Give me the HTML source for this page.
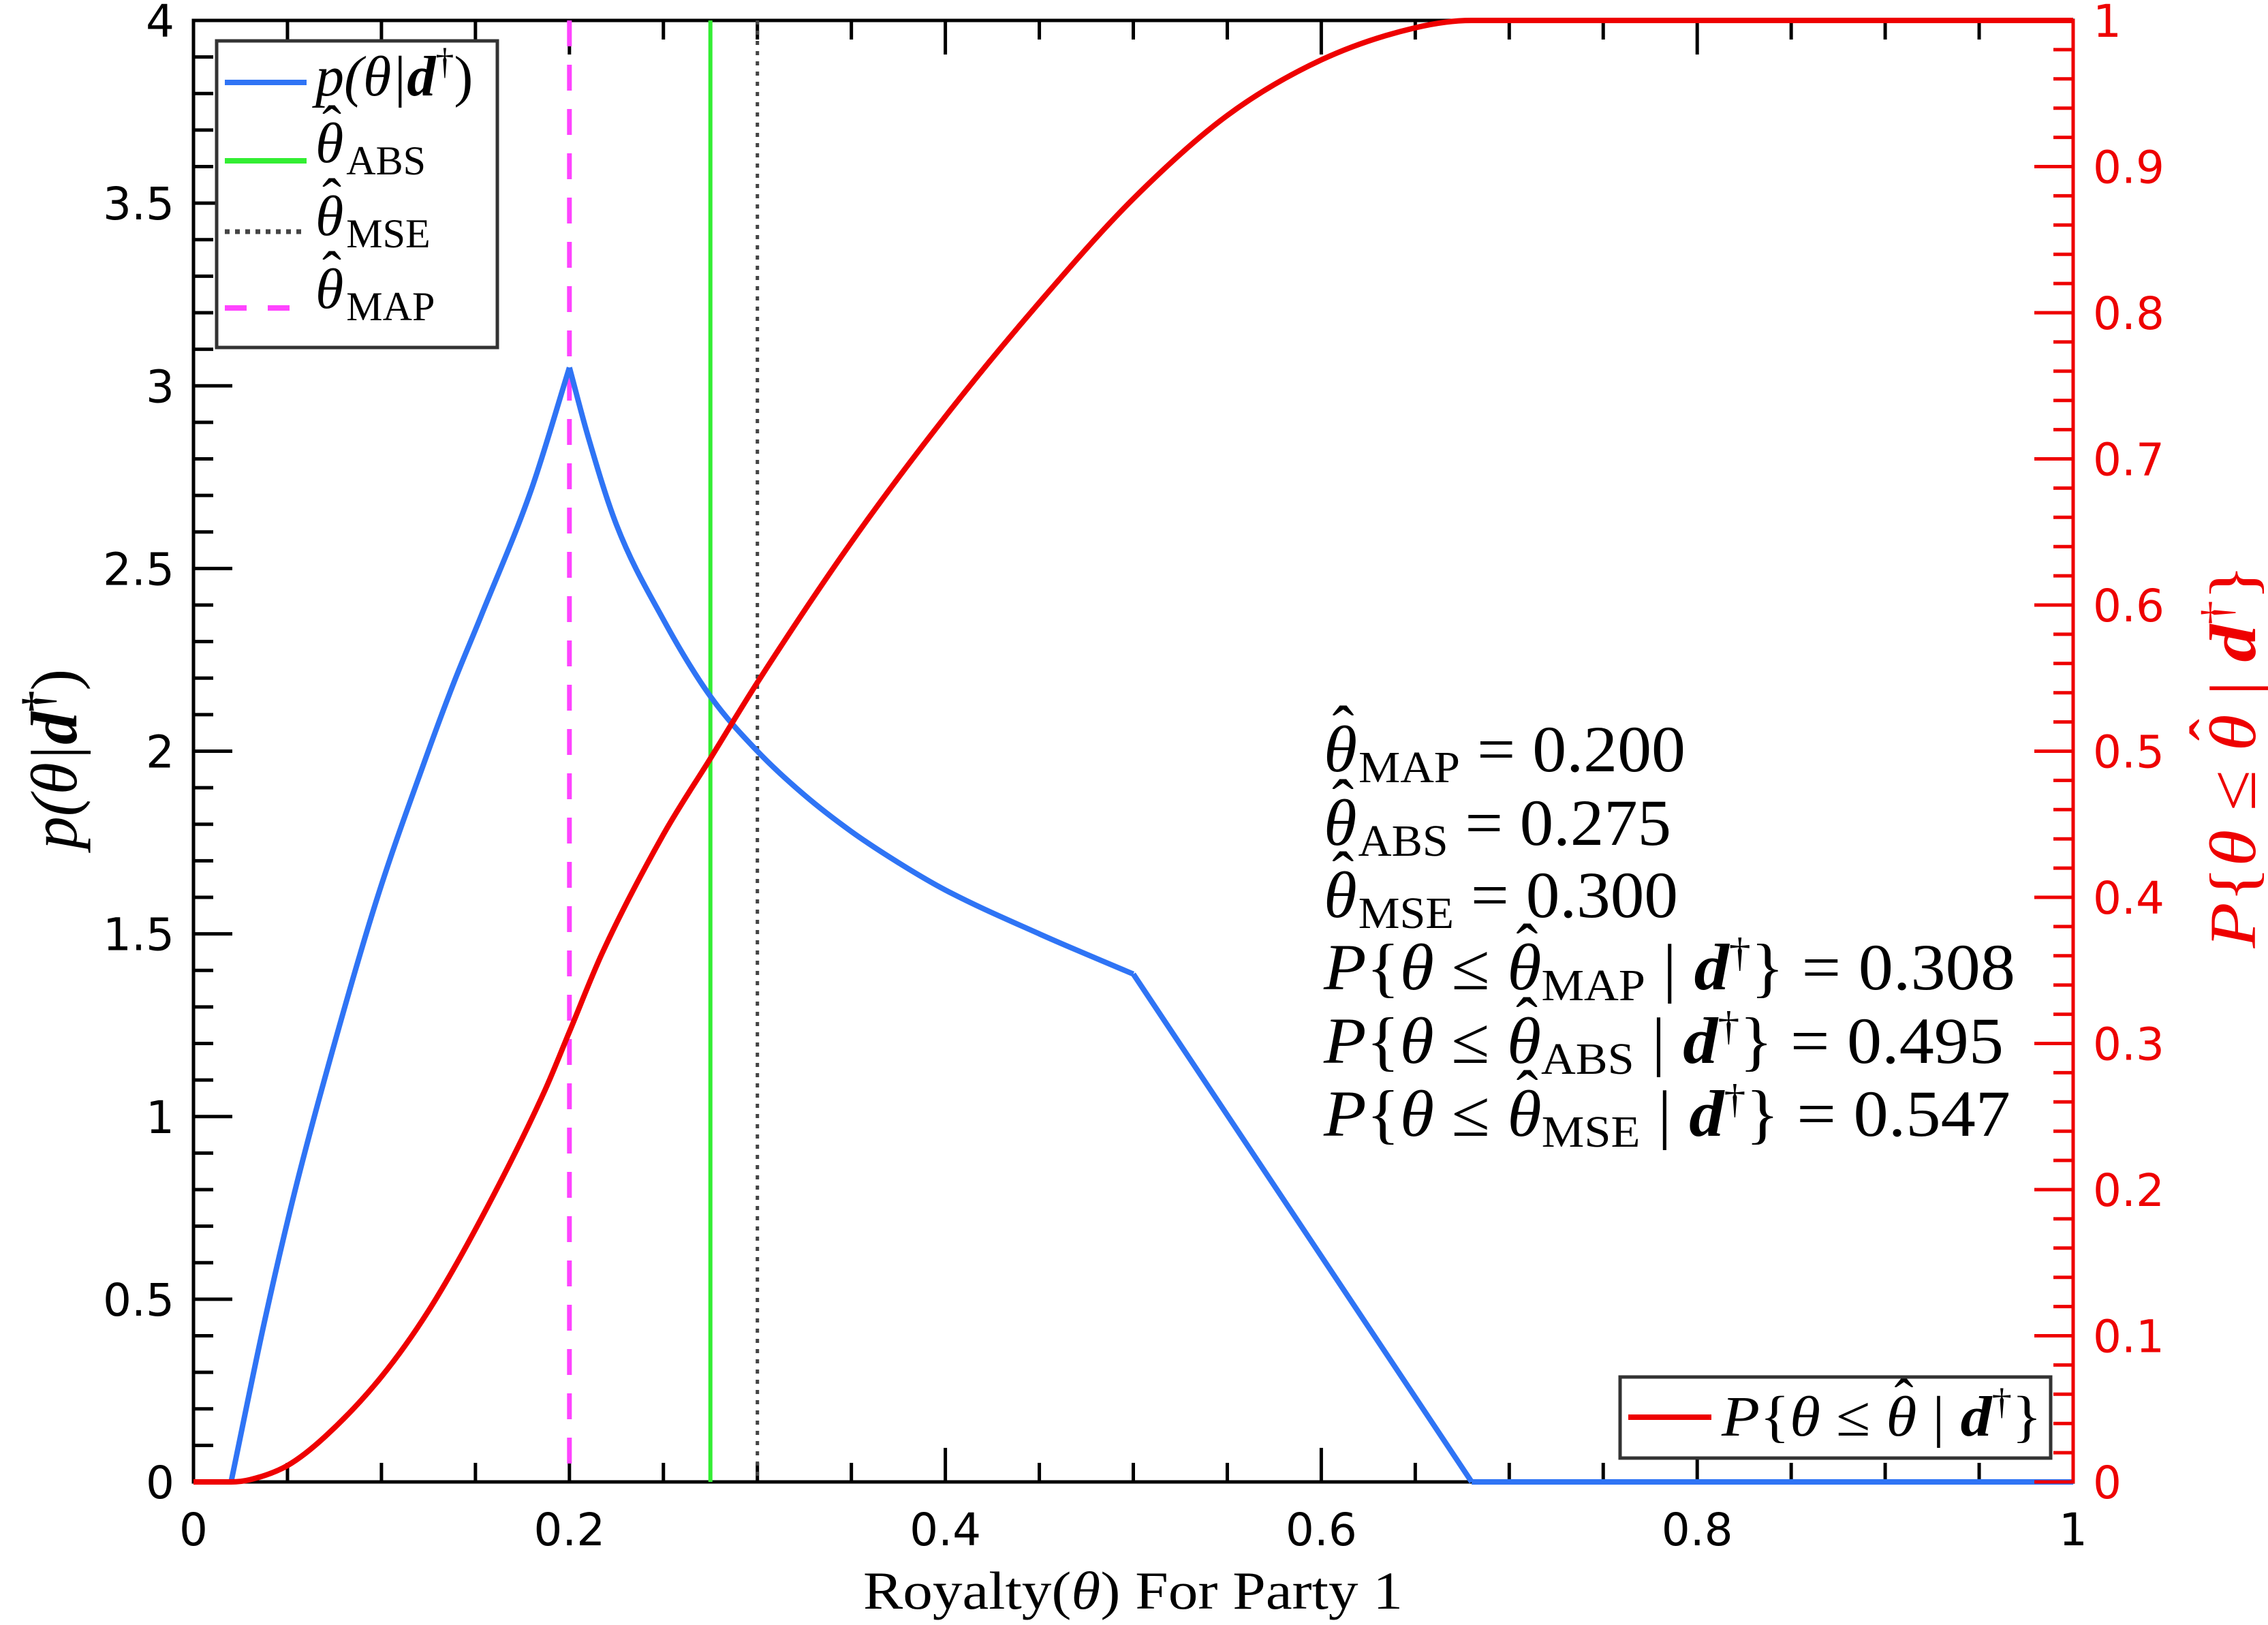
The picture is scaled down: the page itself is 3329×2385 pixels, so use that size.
<!DOCTYPE html>
<html><head><meta charset="utf-8"><style>
html,body{margin:0;padding:0;background:#fff;}
svg{display:block;}
.tk{font-family:"DejaVu Sans","Liberation Sans",sans-serif;font-size:66px;}
.m{font-family:"Liberation Serif","DejaVu Serif",serif;}
</style></head><body>
<svg id="chart" width="3329" height="2385" viewBox="0 0 3329 2385" xmlns="http://www.w3.org/2000/svg">
<g id="plot"></g>
</svg>
<script>
// ---- data ----
const pdfTheta = [0, 0.02, 0.0374, 0.0527, 0.068, 0.097, 0.1235, 0.1387, 0.153, 0.18, 0.20, 0.21, 0.225, 0.25, 0.275, 0.30, 0.325, 0.35, 0.375, 0.40, 0.45, 0.50, 0.68, 1.0];
const pdfValues = [0, 0, 0.43, 0.77, 1.07, 1.586, 1.98, 2.19, 2.37, 2.72, 3.05, 2.86, 2.62, 2.36, 2.15, 2.00, 1.88, 1.78, 1.695, 1.62, 1.50, 1.39, 0, 0];
const cdfTheta = [0, 0.02, 0.03, 0.05, 0.07, 0.10, 0.125, 0.153, 0.187, 0.20, 0.2175, 0.25, 0.275, 0.30, 0.35, 0.40, 0.45, 0.50, 0.55, 0.60, 0.65, 0.68, 1.0];
const cdfValues = [0, 0, 0.0015, 0.0112, 0.031, 0.072, 0.117, 0.18, 0.268, 0.308, 0.362, 0.443, 0.495, 0.547, 0.643, 0.729, 0.807, 0.878, 0.935, 0.973, 0.995, 1.0, 1.0];
const estimates = [0.200, 0.275, 0.300]; // MAP, ABS, MSE
const xTickLabels = ["0", "0.2", "0.4", "0.6", "0.8", "1"];
const yTickLabels = ["0", "0.5", "1", "1.5", "2", "2.5", "3", "3.5", "4"];
const y2TickLabels = ["0", "0.1", "0.2", "0.3", "0.4", "0.5", "0.6", "0.7", "0.8", "0.9", "1"];

// ---- axes ----
const L = 284, R = 3043, T = 30, B = 2175;
const xs = v => L + v * (R - L);
const ys = v => B - v / 4 * (B - T);
const y2s = v => B - v * (B - T);
const NS = "http://www.w3.org/2000/svg";
const g = document.getElementById('plot');
function el(tag, attrs, parent) {
  const e = document.createElementNS(NS, tag);
  for (const k in attrs) e.setAttribute(k, attrs[k]);
  (parent || g).appendChild(e);
  return e;
}
function line(x1, y1, x2, y2, stroke, w, name) {
  const e = el('line', {x1, y1, x2, y2, stroke, 'stroke-width': w});
  
  
  return e;
}
function monoPath(pts) {
  const n = pts.length;
  if (n < 3) return 'M' + pts.map(p => p.join(',')).join(' L');
  const d = [], m = new Array(n);
  for (let i = 0; i < n - 1; i++) d.push((pts[i + 1][1] - pts[i][1]) / (pts[i + 1][0] - pts[i][0]));
  m[0] = d[0]; m[n - 1] = d[n - 2];
  for (let i = 1; i < n - 1; i++) m[i] = (d[i - 1] * d[i] <= 0) ? 0 : (d[i - 1] + d[i]) / 2;
  for (let i = 0; i < n - 1; i++) {
    if (d[i] === 0) { m[i] = 0; m[i + 1] = 0; continue; }
    const a = m[i] / d[i], b = m[i + 1] / d[i], s = a * a + b * b;
    if (s > 9) { const t = 3 / Math.sqrt(s); m[i] = t * a * d[i]; m[i + 1] = t * b * d[i]; }
  }
  let p = 'M' + pts[0][0] + ',' + pts[0][1];
  for (let i = 0; i < n - 1; i++) {
    const h = (pts[i + 1][0] - pts[i][0]) / 3;
    p += ' C' + (pts[i][0] + h) + ',' + (pts[i][1] + m[i] * h) + ' ' + (pts[i + 1][0] - h) + ',' + (pts[i + 1][1] - m[i + 1] * h) + ' ' + pts[i + 1][0] + ',' + pts[i + 1][1];
  }
  return p;
}

let e = el('rect', {x: L, y: T, width: R - L, height: B - T, fill: 'none', stroke: '#000', 'stroke-width': 5});



for (let i = 0; i <= 20; i++) {
  const x = xs(i * 0.05);
  const len = (i % 4 === 0) ? 50 : 28;
  line(x, B, x, B - len, '#000', 5, 'x-tick');
  line(x, T, x, T + len, '#000', 5, 'x-tick-top');
}
xTickLabels.forEach((s, i) => {
  const t = el('text', {x: xs(i * 0.2), y: 2268, 'text-anchor': 'middle', class: 'tk', fill: '#000'});
  t.textContent = s;
  
  
});
for (let i = 0; i <= 40; i++) {
  const y = ys(i * 0.1);
  const len = (i % 5 === 0) ? 57 : 29;
  line(L, y, L + len, y, '#000', 5, 'y-tick');
}
yTickLabels.forEach((s, i) => {
  const t = el('text', {x: 256, y: ys(i * 0.5) + 24, 'text-anchor': 'end', class: 'tk', fill: '#000'});
  t.textContent = s;
  
  
});

line(xs(estimates[1]), T, xs(estimates[1]), B, '#33ee33', 6, 'abs-line');
e = line(xs(estimates[2]), T, xs(estimates[2]), B, '#444', 5, 'mse-line');
e.setAttribute('stroke-dasharray', '6 9');
e = line(xs(estimates[0]), T, xs(estimates[0]), B, '#ff44ff', 7, 'map-line');
e.setAttribute('stroke-dasharray', '38 27');

const kinks = [0.02, 0.2, 0.5, 0.68];
let pdfD = '';
let seg = [];
pdfTheta.forEach((t, i) => {
  seg.push([xs(t), ys(pdfValues[i])]);
  if (kinks.includes(t) || i === pdfTheta.length - 1) {
    if (seg.length > 1) pdfD += (pdfD ? ' ' : '') + monoPath(seg);
    seg = [[xs(t), ys(pdfValues[i])]];
  }
});
e = el('path', {d: pdfD, fill: 'none', stroke: '#2f74f5', 'stroke-width': 8, 'stroke-linejoin': 'round'});



e = el('path', {d: monoPath(cdfTheta.map((t, i) => [xs(t), y2s(cdfValues[i])])), fill: 'none', stroke: '#ee0000', 'stroke-width': 8});



line(R, T - 2, R, B + 2, '#ee0000', 5, 'right-axis');
for (let i = 0; i <= 50; i++) {
  const y = y2s(i * 0.02);
  const len = (i % 5 === 0) ? 57 : 29;
  line(R - len, y, R, y, '#ee0000', 5, 'y2-tick');
}
y2TickLabels.forEach((s, i) => {
  const t = el('text', {x: 3072, y: y2s(i * 0.1) + 24, 'text-anchor': 'start', class: 'tk', fill: '#ee0000'});
  t.textContent = s;
  
  
});
</script>
<svg id="ann" width="3329" height="2385" viewBox="0 0 3329 2385" style="position:absolute;left:0;top:0" xmlns="http://www.w3.org/2000/svg">
<g>
<rect x="318" y="60" width="412" height="450" fill="#fff" stroke="#333" stroke-width="5"/>
<line x1="330" y1="121" x2="450" y2="121" stroke="#2f74f5" stroke-width="8"/>
<line x1="330" y1="236" x2="450" y2="236" stroke="#33ee33" stroke-width="8"/>
<line x1="330" y1="340" x2="450" y2="340" stroke="#444" stroke-width="7" stroke-dasharray="7 8"/>
<line x1="330" y1="452" x2="450" y2="452" stroke="#ff44ff" stroke-width="8" stroke-dasharray="32 31"/>
<text class="m" x="463" y="140" font-size="84" font-style="italic">p(θ|<tspan font-weight="bold">d</tspan><tspan dy="-32" font-size="54" font-style="normal">†</tspan><tspan dy="32" font-style="normal">)</tspan></text>
<text class="m" x="463" y="238" font-size="84"><tspan class="hat" font-style="italic">θ</tspan><tspan dx="4" dy="18" font-size="60">ABS</tspan></text>
<text class="m" x="463" y="345" font-size="84"><tspan class="hat" font-style="italic">θ</tspan><tspan dx="4" dy="18" font-size="60">MSE</tspan></text>
<text class="m" x="463" y="452" font-size="84"><tspan class="hat" font-style="italic">θ</tspan><tspan dx="4" dy="18" font-size="60">MAP</tspan></text>
</g>
<g>
<rect x="2378" y="2021" width="632" height="119" fill="#fff" stroke="#333" stroke-width="5"/>
<line x1="2390" y1="2080" x2="2512" y2="2080" stroke="#ee0000" stroke-width="8"/>
<text class="m" x="2527" y="2107" font-size="84" textLength="470" lengthAdjust="spacingAndGlyphs"><tspan font-style="italic">P</tspan>{<tspan font-style="italic">θ</tspan> ≤ <tspan class="hat" font-style="italic">θ</tspan> | <tspan font-weight="bold" font-style="italic">d</tspan><tspan dy="-32" font-size="54">†</tspan><tspan dy="32">}</tspan></text>
</g>
<g class="m" font-size="96">
<text x="1943" y="1132" textLength="531" lengthAdjust="spacingAndGlyphs"><tspan class="hat" font-style="italic">θ</tspan><tspan font-size="66" dx="2" dy="16">MAP</tspan><tspan dy="-16"> = 0.200</tspan></text>
<text x="1943" y="1240" textLength="510" lengthAdjust="spacingAndGlyphs"><tspan class="hat" font-style="italic">θ</tspan><tspan font-size="66" dx="2" dy="16">ABS</tspan><tspan dy="-16"> = 0.275</tspan></text>
<text x="1943" y="1346" textLength="520" lengthAdjust="spacingAndGlyphs"><tspan class="hat" font-style="italic">θ</tspan><tspan font-size="66" dx="2" dy="16">MSE</tspan><tspan dy="-16"> = 0.300</tspan></text>
<text x="1943" y="1452" textLength="1015" lengthAdjust="spacingAndGlyphs"><tspan font-style="italic">P</tspan>{<tspan font-style="italic">θ</tspan> ≤ <tspan class="hat" font-style="italic">θ</tspan><tspan font-size="66" dy="16">MAP</tspan><tspan dy="-16"> | </tspan><tspan font-style="italic" font-weight="bold">d</tspan><tspan dy="-34" font-size="60">†</tspan><tspan dy="34">} = 0.308</tspan></text>
<text x="1943" y="1560" textLength="998" lengthAdjust="spacingAndGlyphs"><tspan font-style="italic">P</tspan>{<tspan font-style="italic">θ</tspan> ≤ <tspan class="hat" font-style="italic">θ</tspan><tspan font-size="66" dy="16">ABS</tspan><tspan dy="-16"> | </tspan><tspan font-style="italic" font-weight="bold">d</tspan><tspan dy="-34" font-size="60">†</tspan><tspan dy="34">} = 0.495</tspan></text>
<text x="1943" y="1667" textLength="1008" lengthAdjust="spacingAndGlyphs"><tspan font-style="italic">P</tspan>{<tspan font-style="italic">θ</tspan> ≤ <tspan class="hat" font-style="italic">θ</tspan><tspan font-size="66" dy="16">MSE</tspan><tspan dy="-16"> | </tspan><tspan font-style="italic" font-weight="bold">d</tspan><tspan dy="-34" font-size="60">†</tspan><tspan dy="34">} = 0.547</tspan></text>
</g>
<text class="m" x="1663" y="2361" font-size="78" text-anchor="middle" textLength="792" lengthAdjust="spacingAndGlyphs">Royalty(<tspan font-style="italic">θ</tspan>) For Party 1</text>
<text class="m" transform="translate(112,1114) rotate(-90)" x="0" y="0" font-size="96" text-anchor="middle" font-style="italic">p(θ|<tspan font-weight="bold">d</tspan><tspan dy="-36" font-size="62" font-weight="bold" font-style="normal">†</tspan><tspan dy="36" font-style="normal">)</tspan></text>
<text class="m" transform="translate(3310,1110) rotate(-90)" x="0" y="0" font-size="96" text-anchor="middle" fill="#ee0000" textLength="563" lengthAdjust="spacingAndGlyphs"><tspan font-style="italic">P</tspan>{<tspan font-style="italic">θ</tspan> ≤ <tspan class="hat" font-style="italic">θ</tspan> | <tspan font-weight="bold" font-style="italic">d</tspan><tspan dy="-36" font-size="62">†</tspan><tspan dy="36">}</tspan></text>
</svg>
<script>
document.querySelectorAll('#ann tspan.hat').forEach(ts => {
  const txt = ts.closest('text');
  const fs = parseFloat(txt.getAttribute('font-size') || txt.parentNode.getAttribute('font-size') || 90);
  const bb = ts.getBBox();
  const base = parseFloat(txt.getAttribute('y') || 0);
  const h = document.createElementNS("http://www.w3.org/2000/svg", 'text');
  h.setAttribute('x', bb.x + bb.width * 0.58);
  h.setAttribute('y', base - fs * 0.30);
  h.setAttribute('text-anchor', 'middle');
  h.setAttribute('font-size', fs);
  h.setAttribute('class', 'm');
  const tr = txt.getAttribute('transform');
  if (tr) h.setAttribute('transform', tr);
  const fill = txt.getAttribute('fill');
  if (fill) h.setAttribute('fill', fill);
  h.textContent = 'ˆ';
  
  
  txt.parentNode.appendChild(h);
});
</script>
</body></html>
